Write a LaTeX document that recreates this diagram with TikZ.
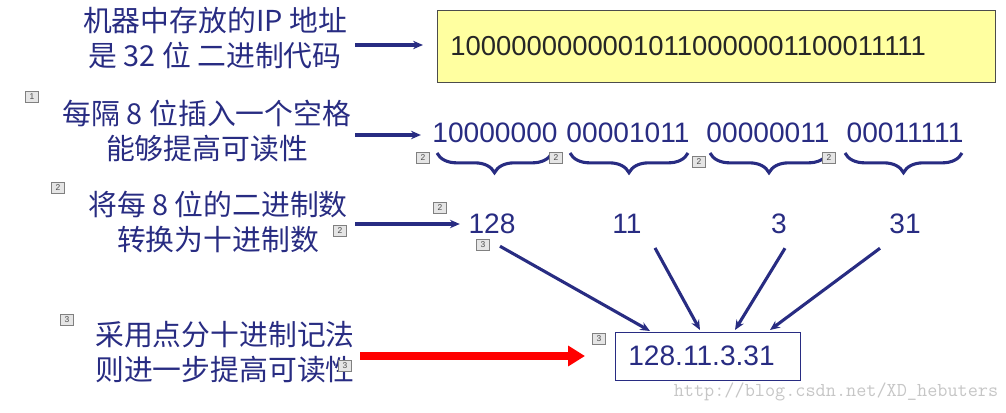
\documentclass[tikz,border=0pt]{standalone}
\usepackage{fontspec}
\setmainfont{Liberation Sans}
\newfontfamily\cjk{Noto Sans CJK SC}
\usetikzlibrary{arrows.meta,decorations.pathreplacing}
\definecolor{dblue}{RGB}{40,44,130}
\definecolor{lyel}{RGB}{255,255,160}
\tikzset{
  x=0.025cm,y=-0.025cm,
  lbl/.style={text=dblue,font=\cjk\fontsize{20.5}{25}\selectfont,align=center,inner sep=0},
  num/.style={text=dblue,font=\fontsize{20}{22}\selectfont,inner sep=0},
  arr/.style={draw=dblue,line width=2.2pt,-{Stealth[length=7pt,width=6pt]}},
  tag/.style={draw=gray,fill=gray!20,font=\fontsize{6}{6}\selectfont,inner sep=1.2pt,minimum width=9pt,minimum height=8pt,text=black!70},
  brc/.style={draw=dblue,line width=2.2pt,decorate,decoration={brace,mirror,amplitude=14pt}},
}
\begin{document}
\begin{tikzpicture}
\useasboundingbox (0,0) rectangle (1006,413);
% row 1
\node[lbl] (t1) at (215,38) {机器中存放的IP 地址\\是 32 位 二进制代码};
\node[draw=black!70,fill=lyel,minimum width=558*0.025cm,minimum height=72*0.025cm,anchor=north west,inner sep=0] (yb) at (437,10) {};
\node[font=\fontsize{19.5}{22}\selectfont,text=black!85,anchor=west,inner sep=0] (bits) at (450,46) {10000000000010110000001100011111};
\coordinate (a1s) at (355,45);
\draw[arr] (a1s) -- ([xshift=-10pt]yb.west|-a1s);
% row 2
\node[lbl] (t2) at (207,131) {每隔 8 位插入一个空格\\能够提高可读性};
\node[num] (g1) at (495,133) {10000000};
\node[num] (g2) at (628,133) {00001011};
\node[num] (g3) at (768,133) {00000011};
\node[num] (g4) at (905,133) {00011111};
\coordinate (a2s) at (355,135);
\draw[arr] (a2s) -- ([xshift=-8pt]g1.west|-a2s);
\draw[brc] (437,153) -- (552,153);
\draw[brc] (570,153) -- (688,153);
\draw[brc] (710,153) -- (828,153);
\draw[brc] (845,153) -- (962,153);
% row 3
\node[lbl] (t3) at (218,222) {将每 8 位的二进制数\\转换为十进制数};
\node[num] (d1) at (492,224) {128};
\node[num] (d2) at (627,224) {11};
\node[num] (d3) at (779,224) {3};
\node[num] (d4) at (905,224) {31};
\coordinate (a3s) at (355,224);
\draw[arr] (a3s) -- ([xshift=-6pt]d1.west|-a3s);
% row 4
\node[lbl] (t4) at (225,352) {采用点分十进制记法\\则进一步提高可读性};
\node[draw=dblue,line width=1pt,minimum width=185*0.025cm,minimum height=48*0.025cm,anchor=north west,inner sep=0] (res) at (615,332) {};
\node[text=dblue,font=\fontsize{20}{22}\selectfont,anchor=west,inner sep=0] (rt) at (628,356) {128.11.3.31};
\coordinate (a4s) at (360,356);
\draw[draw=red,line width=5pt,-{Triangle[length=12pt,width=14pt]}] (a4s) -- (585,356);
\draw[arr] (d1.south)++(8,12) -- (650,331);
\draw[arr] (d2.south)++(28,14) -- (700,330);
\draw[arr] (d3.south)++(6,14) -- (735,330);
\draw[arr] (d4.south)++(-25,14) -- (770,330);
% tags
\node[tag] at (32,97) {1};
\node[tag] at (58,188) {2};
\node[tag] at (423,158) {2};
\node[tag] at (556,158) {2};
\node[tag] at (699,162) {2};
\node[tag] at (829,158) {2};
\node[tag] at (440,208) {2};
\node[tag] at (340,231) {2};
\node[tag] at (483,245) {3};
\node[tag] at (67,320) {3};
\node[tag] at (345,366) {3};
\node[tag] at (599,339) {3};
\node[text=gray!45,font=\ttfamily\fontsize{14}{14}\selectfont,inner sep=0] (wm) at (836,392) {http://blog.csdn.net/XD\_hebuters};
\end{tikzpicture}
\end{document}
